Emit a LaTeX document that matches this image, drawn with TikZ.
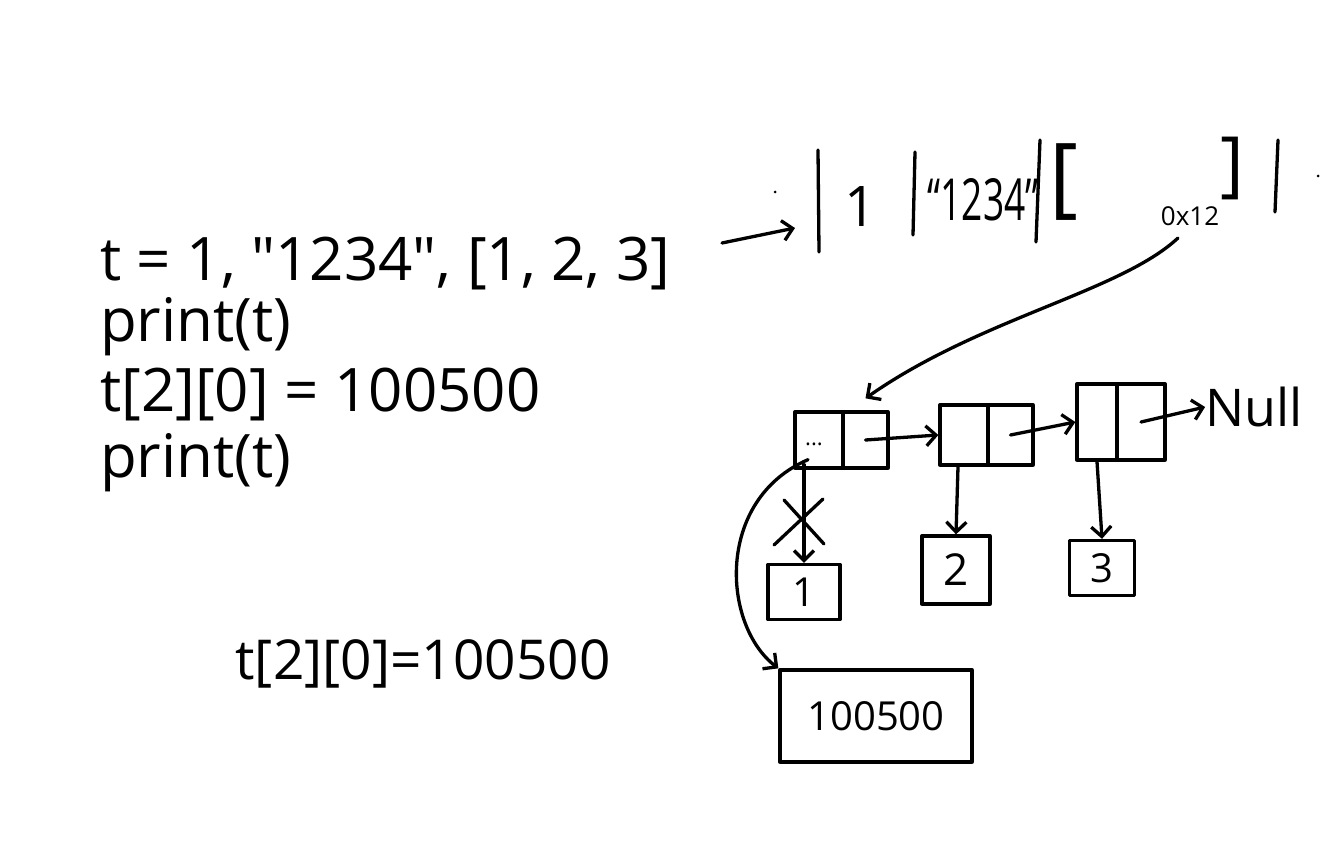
\documentclass[tikz,border=0pt]{standalone}
\usepackage{fontspec}
\setmainfont{Open Sans}[Ligatures=TeXOff]
\usetikzlibrary{arrows.meta}
\tikzset{
  ink/.style={line width=3.3pt, line cap=round, line join=round},
  harrow/.style={ink, -{Straight Barb[length=10pt,width=20pt]}},
  cell/.style={draw, ink, minimum width=#1, minimum height=56pt, inner sep=0pt},
  cell/.default=48pt,
  valbox/.style={draw, ink, inner sep=0pt},
  code/.style={font=\fontsize{60}{70}\selectfont, inner sep=0pt, anchor=base west},
  hand/.style={inner sep=0pt},
}
\begin{document}
\begin{tikzpicture}[x=1pt,y=-1pt]
\useasboundingbox (0,0) rectangle (1343,861);
% code lines
\node[code] (l1) at (100,280) {t = 1, "1234", [1, 2, 3]};
\node[code] (l2) at (100,341) {print(t)};
\node[code] (l3) at (100,411) {t[2][0] = 100500};
\node[code] (l4) at (100,477) {print(t)};
% tuple
\coordinate (a1s) at (722,243);
\coordinate (a1e) at (795,228);
\draw[harrow] (a1s) -- (a1e);
\draw[ink] (818,150) -- (819,252);
\draw[ink] (915,152) -- (913,235);
\draw[ink] (1040,140) -- (1036,242);
\draw[ink] (1278,140) -- (1275,212);
\node[hand, font=\fontsize{56}{60}\selectfont] (t1) at (860,207) {1};
\node[hand, font=\fontsize{58}{60}\selectfont] (t2) at (983,200) {\scalebox{0.64}[1]{“1234”}};
\node[hand, font=\fontsize{88}{90}\selectfont] (lb) at (1064,182) {[};
\node[hand, font=\fontsize{72}{80}\selectfont] (rb) at (1232,168) {]};
\node[hand, font=\fontsize{26}{30}\selectfont] (addr) at (1190,216) {0x12};
\fill (775,192) circle (1.5pt);
\fill (1318,176) circle (1.5pt);
% linked list
\node[cell=48pt] (n1a) at (819,440) {};
\node[cell=45pt] (n1b) at (865.5,440) {};
\node[hand, font=\fontsize{22}{24}\selectfont] (dots) at (814,444) {...};
\node[cell=48pt, minimum height=60pt] (n2a) at (964,435) {};
\node[cell=45pt, minimum height=60pt] (n2b) at (1010.5,435) {};
\node[cell=40pt, minimum height=76pt] (n3a) at (1097,422) {};
\node[cell=48pt, minimum height=76pt] (n3b) at (1141,422) {};
\node[hand, font=\fontsize{52}{60}\selectfont] (null) at (1254,407) {Null};
\coordinate (p0) at (1178,238);
\draw[harrow] (p0) .. controls (1120,292) and (980,318) .. ([yshift=12pt]n1b.north);
\draw[harrow] (n1b.center) -- (n2a.west);
\draw[harrow] (n2b.center) -- (n3a.west);
\draw[harrow] (n3b.center) -- (null.west);
% values
\node[valbox, minimum width=72pt, minimum height=55pt, font=\fontsize{40}{44}\selectfont] (b1) at (804,592) {1};
\node[valbox, minimum width=68pt, minimum height=68pt, font=\fontsize{44}{48}\selectfont] (b2) at (956,570) {2};
\node[valbox, minimum width=65pt, minimum height=55pt, font=\fontsize{40}{44}\selectfont] (b3) at (1102,568) {3};
\draw[harrow] ([xshift=-15pt,yshift=5pt]n1a.south) -- (b1.north);
\draw[harrow] ([xshift=-6pt]n2a.south) -- (b2.north);
\draw[harrow] ([xshift=0pt]n3a.south) -- (b3.north);
% cross
\draw[ink] (774,545) -- (823,499);
\draw[ink] (784,500) -- (824,544);
% new value
\node[valbox, minimum width=192pt, minimum height=92pt, font=\fontsize{40}{44}\selectfont] (nv) at (876,716) {100500};
\draw[harrow] ([xshift=-11pt,yshift=10pt]n1a.south) .. controls (715,500) and (722,625) .. (nv.north west);
% annotation
\node[hand, font=\fontsize{55}{60}\selectfont] (ann) at (423,664) {t[2][0]=100500};
\end{tikzpicture}
\end{document}
